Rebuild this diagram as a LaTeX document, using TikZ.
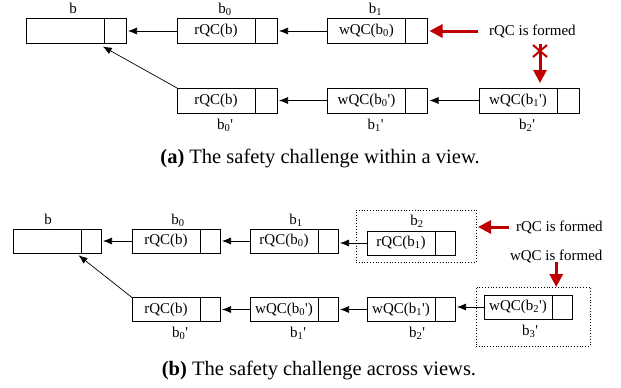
\documentclass[tikz,border=0pt]{standalone}
\usepackage{fontspec}
\setmainfont{Liberation Serif}
\usetikzlibrary{arrows.meta,positioning,calc}
\definecolor{alarm}{RGB}{192,0,0}

\begin{document}
\begin{tikzpicture}[x=1pt,y=-1pt,>={Latex[length=9pt,width=7pt]},every node/.style={font=\fontsize{15}{17}\selectfont,inner sep=0pt,outer sep=0pt},blka/.style={draw,line width=0.7pt,minimum width=78pt,minimum height=25pt},cella/.style={draw,line width=0.7pt,minimum width=22pt,minimum height=25pt},blkb/.style={draw,line width=0.7pt,minimum width=68pt,minimum height=24pt},cellb/.style={draw,line width=0.7pt,minimum width=20pt,minimum height=24pt},tag/.style={anchor=base},link/.style={->,line width=0.7pt,shorten >=2pt},hot/.style={-{Triangle[length=13pt,width=13pt]},line width=3pt,draw=alarm},frame/.style={draw,dotted,line width=0.8pt},note/.style={anchor=west},caption/.style={font=\fontsize{20.5}{24}\selectfont}]
\useasboundingbox (0,0) rectangle (621,388);
% (a) within a view
\node[blka] (aB) at (65,31) {}; \node[cella,right=0pt of aB] (aBc) {};
\node[blka] (a0) at (216,31) {rQC(b)}; \node[cella,right=0pt of a0] (a0c) {};
\node[blka] (a1) at (366.5,31) {wQC(b\textsubscript{0})}; \node[cella,right=0pt of a1] (a1c) {};
\node[blka] (p0) at (216,100.5) {rQC(b)}; \node[cella,right=0pt of p0] (p0c) {};
\node[blka] (p1) at (366.5,100.5) {wQC(b\textsubscript{0}\textquotesingle)}; \node[cella,right=0pt of p1] (p1c) {};
\node[blka] (p2) at (518,100.5) {wQC(b\textsubscript{1}\textquotesingle)}; \node[cella,right=0pt of p2] (p2c) {};
\node[tag] at ($(aB.north)+(8,-5)$) {b};
\node[tag] at ($(a0.north)+(9,-5)$) {b\textsubscript{0}};
\node[tag] at ($(a1.north)+(9,-5)$) {b\textsubscript{1}};
\node[tag] at ($(p0.south)+(9,16)$) {b\textsubscript{0}\textquotesingle};
\node[tag] at ($(p1.south)+(9,16)$) {b\textsubscript{1}\textquotesingle};
\node[tag] at ($(p2.south)+(9,16)$) {b\textsubscript{2}\textquotesingle};
\draw[link] (a0.west) -- (aBc.east);
\draw[link] (a1.west) -- (a0c.east);
\draw[link] (p1.west) -- (p0c.east);
\draw[link] (p2.west) -- (p1c.east);
\draw[link] (p0.north west) -- ($(aBc.south west)+(-3,2)$);
\node[note] (fa) at (489,31) {rQC is formed};
\draw[hot,shorten <=11pt,shorten >=2pt] (fa.west) -- (a1c.east);
\coordinate (xm) at (540,44);
\draw[hot,shorten >=5pt] (xm) -- (xm |- p2.north);
\draw[alarm,line width=2pt] ($(xm)+(-7,1)$) -- ($(xm)+(7,13)$) ($(xm)+(7,1)$) -- ($(xm)+(-7,13)$);
\node[caption] (capa) at (320,158) {\textbf{(a)} The safety challenge within a view.};
% (b) across views
\node[blkb] (bB) at (47,241) {}; \node[cellb,right=0pt of bB] (bBc) {};
\node[blkb] (b0) at (166,241) {rQC(b)}; \node[cellb,right=0pt of b0] (b0c) {};
\node[blkb] (b1) at (284,241) {rQC(b\textsubscript{0})}; \node[cellb,right=0pt of b1] (b1c) {};
\node[blkb] (b2) at (401,243) {rQC(b\textsubscript{1})}; \node[cellb,right=0pt of b2] (b2c) {};
\node[blkb] (q0) at (166,309.5) {rQC(b)}; \node[cellb,right=0pt of q0] (q0c) {};
\node[blkb] (q1) at (284,309.5) {wQC(b\textsubscript{0}\textquotesingle)}; \node[cellb,right=0pt of q1] (q1c) {};
\node[blkb] (q2) at (401,309.5) {wQC(b\textsubscript{1}\textquotesingle)}; \node[cellb,right=0pt of q2] (q2c) {};
\node[blkb] (q3) at (518,307) {wQC(b\textsubscript{2}\textquotesingle)}; \node[cellb,right=0pt of q3] (q3c) {};
\node[tag] at ($(bB.north)+(1,-5)$) {b};
\node[tag] at ($(b0.north)+(12,-5)$) {b\textsubscript{0}};
\node[tag] at ($(b1.north)+(12,-5)$) {b\textsubscript{1}};
\node[tag] at ($(b2.north)+(16,-6)$) {b\textsubscript{2}};
\node[tag] at ($(q0.south)+(14,16)$) {b\textsubscript{0}\textquotesingle};
\node[tag] at ($(q1.south)+(14,16)$) {b\textsubscript{1}\textquotesingle};
\node[tag] at ($(q2.south)+(16,16)$) {b\textsubscript{2}\textquotesingle};
\node[tag] at ($(q3.south)+(12,16)$) {b\textsubscript{3}\textquotesingle};
\node[frame,minimum width=120pt,minimum height=52pt] (fb2) at (416,236) {};
\node[frame,minimum width=114pt,minimum height=59pt] (fq3) at (533,316.5) {};
\draw[link] (b0.west) -- (bBc.east);
\draw[link] (b1.west) -- (b0c.east);
\draw[link] (b2.west) -- (b2.west -| b1c.east);
\draw[link] (q1.west) -- (q0c.east);
\draw[link] (q2.west) -- (q1c.east);
\draw[link] (q3.west) -- (q3.west -| q2c.east);
\draw[link] (q0.north west) -- ($(bBc.south west)+(-4,1)$);
\node[note] (fb) at (516,227) {rQC is formed};
\draw[hot,shorten <=7pt,shorten >=2pt] (fb.west) -- (fb.west -| fb2.east);
\node[note] (fw) at (510,256) {wQC is formed};
\draw[hot] (fw.south) -- (fw.south |- fq3.north);
\node[caption] (capb) at (319,370) {\textbf{(b)} The safety challenge across views.};
\end{tikzpicture}
\end{document}
